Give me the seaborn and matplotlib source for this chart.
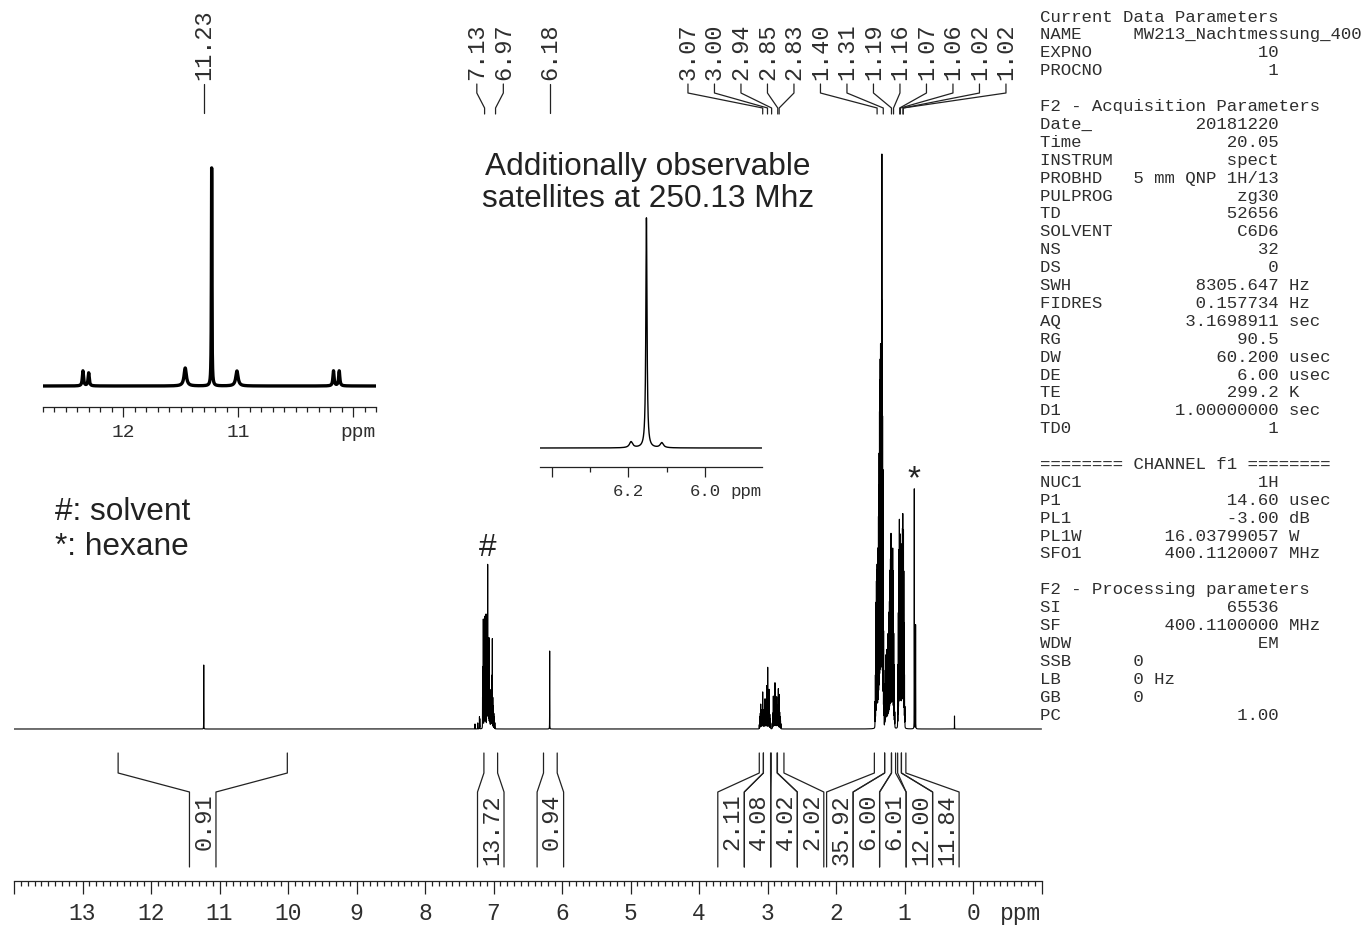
import numpy as np
import pandas as pd
import matplotlib
matplotlib.use("Agg")
import matplotlib.pyplot as plt
from matplotlib.ticker import MultipleLocator, FixedLocator, FuncFormatter
import seaborn as sns

# ---------------- 1H NMR (400 MHz, C6D6): line list ----------------
main_ppm = [11.23,
            # aromatic region
            7.27, 7.23, 7.205, 7.20, 7.16, 7.155, 7.149, 7.14, 7.135, 7.128, 7.12, 7.115, 7.109,
            7.10, 7.095, 7.09, 7.085, 7.08, 7.075, 7.07, 7.066, 7.06, 7.055, 7.051, 7.045, 7.04,
            7.035, 7.03, 7.026, 7.021, 7.017, 7.01, 7.003, 6.995, 6.988, 6.98,
            6.18,
            # CH multiplets
            3.120, 3.115, 3.110, 3.105, 3.099, 3.095, 3.090, 3.085, 3.080, 3.075, 3.070, 3.065,
            3.060, 3.055, 3.050, 3.045, 3.040, 3.036, 3.030, 3.025, 3.020, 3.016, 3.012, 3.005,
            2.997, 2.990, 2.985, 2.978, 2.972, 2.966, 2.960, 2.955,
            2.930, 2.925, 2.920, 2.915, 2.910, 2.905, 2.900, 2.895, 2.891, 2.885, 2.880, 2.875,
            2.870, 2.866, 2.860, 2.855, 2.850, 2.846, 2.842, 2.836, 2.828, 2.822, 2.816, 2.810,
            2.805,
            # CH3 region
            1.430, 1.425, 1.420, 1.415, 1.410, 1.405, 1.400, 1.395, 1.390, 1.385, 1.380, 1.375,
            1.370, 1.365, 1.360, 1.355, 1.350, 1.345, 1.340, 1.335, 1.330, 1.325, 1.320, 1.315,
            1.310, 1.305, 1.300,
            1.290, 1.285, 1.280, 1.275, 1.270, 1.265, 1.260, 1.255, 1.250, 1.245, 1.240, 1.235,
            1.230, 1.225, 1.220, 1.215, 1.210, 1.205, 1.200, 1.197, 1.192, 1.187, 1.182, 1.177,
            1.172, 1.167, 1.162, 1.157, 1.152, 1.147, 1.142,
            1.100, 1.095, 1.090, 1.085, 1.080, 1.075, 1.070, 1.065, 1.060, 1.055, 1.050, 1.045,
            1.040, 1.035, 1.030, 1.025, 1.020, 1.015, 1.010, 1.005, 1.000, 0.995,
            # hexane and impurity
            0.857, 0.838, 0.27]
main_height = [64,
               5, 6, 12, 10, 30, 60, 108, 80, 100, 110, 90, 95, 112,
               80, 70, 100, 160, 70, 60, 50, 88, 40, 35, 37, 30, 25,
               28, 30, 37, 50, 88, 30, 22, 15, 12, 6,
               78,
               4, 8, 12, 15, 24, 15, 17, 18, 16, 18, 36, 18,
               17, 16, 15, 17, 18, 29, 19, 18, 20, 22, 42, 22,
               61, 20, 19, 39, 17, 14, 10, 6,
               5, 10, 15, 32, 17, 18, 19, 20, 45, 19, 18, 18,
               19, 31, 19, 18, 20, 22, 39, 20, 34, 16, 12, 8,
               5,
               25, 50, 90, 120, 140, 150, 156, 130, 150, 170, 200, 230,
               260, 300, 330, 350, 365, 335, 350, 405, 554, 365, 295, 245,
               180, 90, 40,
               20, 40, 55, 60, 70, 60, 75, 70, 65, 80, 90, 85,
               100, 110, 120, 130, 150, 160, 172, 180, 150, 140, 160, 165,
               172, 150, 120, 90, 60, 35, 15,
               20, 60, 110, 150, 170, 200, 175, 165, 185, 170, 150, 160,
               165, 175, 190, 205, 180, 190, 150, 100, 50, 20,
               240, 104, 13]

# expansion around 11.2 ppm with satellites
sat1_ppm = [12.35, 12.30, 11.46, 11.23, 11.01, 10.17, 10.12]
sat1_height = [15, 13, 18, 218, 15, 15, 15]
sat1_width = [0.006, 0.006, 0.012, 0.0025, 0.012, 0.006, 0.006]

# 250.13 MHz spectrum around 6.2 ppm
sat2_ppm = [6.193, 6.153, 6.113]
sat2_height = [6, 230, 5]
sat2_width = [0.005, 0.0018, 0.005]

# peak picking
peak_labels = [11.23, 7.13, 6.97, 6.18, 3.07, 3.00, 2.94, 2.85, 2.83,
               1.40, 1.31, 1.19, 1.16, 1.07, 1.06, 1.02, 1.02]

# integration regions (ppm) and values
integral_from = [12.48, 7.14, 6.27, 3.12, 3.06, 2.945, 2.855, 1.44, 1.29, 1.19, 1.10, 1.045]
integral_to = [10.01, 6.94, 6.07, 3.06, 2.955, 2.86, 2.76, 1.29, 1.19, 1.13, 1.045, 0.98]
integral_value = ["0.91", "13.72", "0.94", "2.11", "4.08", "4.02", "2.02",
                  "35.92", "6.00", "6.01", "12.00", "11.84"]

# acquisition / processing parameters
current_keys = ["NAME", "EXPNO", "PROCNO"]
current_vals = ["MW213_Nachtmessung_400", "10", "1"]
acq_keys = ["Date_", "Time", "INSTRUM", "PROBHD", "PULPROG", "TD", "SOLVENT", "NS", "DS",
            "SWH", "FIDRES", "AQ", "RG", "DW", "DE", "TE", "D1", "TD0"]
acq_vals = ["20181220", "20.05", "spect", "5 mm QNP 1H/13", "zg30", "52656", "C6D6", "32", "0",
            "8305.647", "0.157734", "3.1698911", "90.5", "60.200", "6.00", "299.2", "1.00000000", "1"]
acq_units = ["", "", "", "", "", "", "", "", "", "Hz", "Hz", "sec", "", "usec", "usec", "K", "sec", ""]
chan_keys = ["NUC1", "P1", "PL1", "PL1W", "SFO1"]
chan_vals = ["1H", "14.60", "-3.00", "16.03799057", "400.1120007"]
chan_units = ["", "usec", "dB", "W", "MHz"]
proc_keys = ["SI", "SF", "WDW", "SSB", "LB", "GB", "PC"]
proc_vals = ["65536", "400.1100000", "EM", "0", "0", "0", "1.00"]
proc_units = ["", "MHz", "", "", "Hz", "", ""]

LINE_HW = 0.0007  # Lorentzian half width (ppm) of the main spectrum lines


def lorentzian_sum(grid, centers, heights, widths):
    y = np.zeros_like(grid)
    for c, h, w in zip(centers, heights, widths):
        y += h * w ** 2 / (w ** 2 + (grid - c) ** 2)
    return y


# ---------------- figure ----------------
sns.set_theme(style="white")
plt.rcParams["font.family"] = ["Liberation Mono", "DejaVu Sans Mono"]
INK = "#222222"
TEXT = "#2e2e2e"

W, H = 1369, 925
fig = plt.figure(figsize=(W / 100, H / 100), dpi=100)
fig.patch.set_facecolor("white")


def box(x0, y0, x1, y1):
    """pixel box measured from the top-left corner -> figure fraction rect"""
    return [x0 / W, 1 - y1 / H, (x1 - x0) / W, (y1 - y0) / H]


def style_axis(ax, major, minor, labels, major_len, minor_len, size, pad):
    for sp in ("top", "left", "right"):
        ax.spines[sp].set_visible(False)
    ax.spines["bottom"].set_color(INK)
    ax.spines["bottom"].set_linewidth(0.9)
    ax.set_yticks([])
    ax.set_xlabel("")
    ax.set_ylabel("")
    ax.xaxis.set_major_locator(FixedLocator(major))
    ax.xaxis.set_minor_locator(minor)
    ax.xaxis.set_major_formatter(FuncFormatter(lambda v, p: labels.get(round(v, 2), "")))
    ax.tick_params(axis="x", which="both", bottom=True, direction="out", colors=INK, width=0.9)
    ax.tick_params(axis="x", which="major", length=major_len, labelsize=size, pad=pad,
                   labelcolor=TEXT)
    ax.tick_params(axis="x", which="minor", length=minor_len)
    ax.patch.set_alpha(0)
    ax.annotate("ppm", xy=(ax.get_xlim()[1], 0), xycoords=("data", "axes fraction"),
                xytext=(0, -(major_len + pad)), textcoords="offset points",
                ha="right", va="top", fontsize=size, color=TEXT)


# main spectrum
ax = fig.add_axes(box(14, 0, 1041.5, 881))
grid = np.linspace(14, -1, 150001)
df = pd.DataFrame({"ppm": grid,
                   "intensity": lorentzian_sum(grid, main_ppm, main_height, [LINE_HW] * len(main_ppm))})
sns.lineplot(data=df, x="ppm", y="intensity", ax=ax, color="black", linewidth=0.8,
             estimator=None, sort=False, legend=False)
ax.set_xlim(14, -1)
ax.set_ylim(-152, 729)
main_labels = {float(v): str(v) for v in range(0, 14)}
style_axis(ax, list(range(-1, 15)), MultipleLocator(0.1), main_labels, 9, 3.6, 16.5, 6)

# expansion 1
ax1 = fig.add_axes(box(42.7, 150, 376, 407))
g1 = np.linspace(12.70, 9.80, 30001)
df1 = pd.DataFrame({"ppm": g1, "intensity": lorentzian_sum(g1, sat1_ppm, sat1_height, sat1_width)})
sns.lineplot(data=df1, x="ppm", y="intensity", ax=ax1, color="black", linewidth=2.4,
             estimator=None, sort=False, legend=False)
ax1.set_xlim(12.70, 9.80)
ax1.set_ylim(-21, 236)
style_axis(ax1, [12, 11, 10], MultipleLocator(0.1), {12.0: "12", 11.0: "11"}, 7, 3.6, 14, 5)

# expansion 2 (250.13 MHz)
ax2 = fig.add_axes(box(540, 205, 761.7, 467))
g2 = np.linspace(6.43, 5.853, 20001)
df2 = pd.DataFrame({"ppm": g2, "intensity": lorentzian_sum(g2, sat2_ppm, sat2_height, sat2_width)})
sns.lineplot(data=df2, x="ppm", y="intensity", ax=ax2, color="black", linewidth=1.0,
             estimator=None, sort=False, legend=False)
ax2.set_xlim(6.43, 5.853)
ax2.set_ylim(-19, 243)
style_axis(ax2, [6.4, 6.2, 6.0], FixedLocator([6.3, 6.1]), {6.2: "6.2", 6.0: "6.0"}, 7, 3.6, 12.5, 5)

# overlay in pixel units for annotations
ov = fig.add_axes([0, 0, 1, 1])
ov.set_xlim(0, W)
ov.set_ylim(H, 0)
ov.axis("off")
ov.patch.set_alpha(0)


def to_px(axis, ppm):
    disp = axis.transData.transform((ppm, 0))
    return ov.transData.inverted().transform(disp)[0]


def spread(xs, step):
    groups = [[i] for i in range(len(xs))]
    while True:
        pos = []
        for g in groups:
            c = np.mean([xs[i] for i in g])
            pos.append(c + (np.arange(len(g)) - (len(g) - 1) / 2) * step)
        merged = False
        for k in range(len(groups) - 1):
            if pos[k][-1] + step > pos[k + 1][0] + 1e-6:
                groups[k] = groups[k] + groups[k + 1]
                del groups[k + 1]
                merged = True
                break
        if not merged:
            break
    out = np.empty(len(xs))
    for g, p in zip(groups, pos):
        out[g] = p
    return out


LW = 0.9
STEP = 26.5

# peak labels on top
peak_x = [to_px(ax, v) for v in peak_labels]
label_x = spread(peak_x, STEP)
for v, px, lx in zip(peak_labels, peak_x, label_x):
    ov.text(lx, 80, f"{v:.2f}", rotation=90, ha="center", va="bottom", fontsize=17, color=TEXT)
    if abs(px - lx) < 0.5:
        ov.plot([lx, lx], [84, 113], color=INK, lw=LW)
    else:
        ov.plot([lx, lx, px, px], [84, 93, 108, 114], color=INK, lw=LW)

# integrals below the spectrum
mid_x = [to_px(ax, (a + b) / 2) for a, b in zip(integral_from, integral_to)]
int_x = spread(mid_x, STEP)
for a, b, val, cx in zip(integral_from, integral_to, integral_value, int_x):
    xa, xb = to_px(ax, a), to_px(ax, b)
    half = STEP / 2
    ov.plot([xa, xa, cx - half, cx - half], [753, 773, 792, 867], color=INK, lw=LW)
    ov.plot([xb, xb, cx + half, cx + half], [753, 773, 792, 867], color=INK, lw=LW)
    ov.text(cx + 1, 794, val, rotation=90, ha="center", va="top", fontsize=17, color=TEXT)

# annotations
sans = ["Liberation Sans", "DejaVu Sans"]
ov.text(648, 183, "Additionally observable\nsatellites at 250.13 Mhz", ha="center", va="center",
        fontsize=22.8, family=sans, color=INK, linespacing=1.1)
ov.text(55, 512, "#: solvent", ha="left", va="center", fontsize=22.8, family=sans, color=INK)
ov.text(55, 547, "*: hexane", ha="left", va="center", fontsize=22.8, family=sans, color=INK)
ov.text(to_px(ax, 7.085), 548, "#", ha="center", va="center", fontsize=22.8, family=sans, color=INK)
ov.text(to_px(ax, 0.857), 480, "*", ha="center", va="center", fontsize=24, family=sans, color=INK)

# parameter block
rows = ["Current Data Parameters"]


def fmt(key, val, unit):
    if key in ("NAME", "SSB", "LB", "GB"):
        s = key.ljust(9) + val
    else:
        s = key + val.rjust(23 - len(key))
    return s + (" " + unit if unit else "")


rows += [fmt(k, v, "") for k, v in zip(current_keys, current_vals)]
rows += ["", "F2 - Acquisition Parameters"]
rows += [fmt(k, v, u) for k, v, u in zip(acq_keys, acq_vals, acq_units)]
rows += ["", "======== CHANNEL f1 ========"]
rows += [fmt(k, v, u) for k, v, u in zip(chan_keys, chan_vals, chan_units)]
rows += ["", "F2 - Processing parameters"]
rows += [fmt(k, v, u) for k, v, u in zip(proc_keys, proc_vals, proc_units)]
for i, r in enumerate(rows):
    ov.text(1040, 17 + i * 17.9, r, ha="left", va="center", fontsize=12.5, color=TEXT)

fig.savefig("out.png", dpi=100, facecolor="white")
